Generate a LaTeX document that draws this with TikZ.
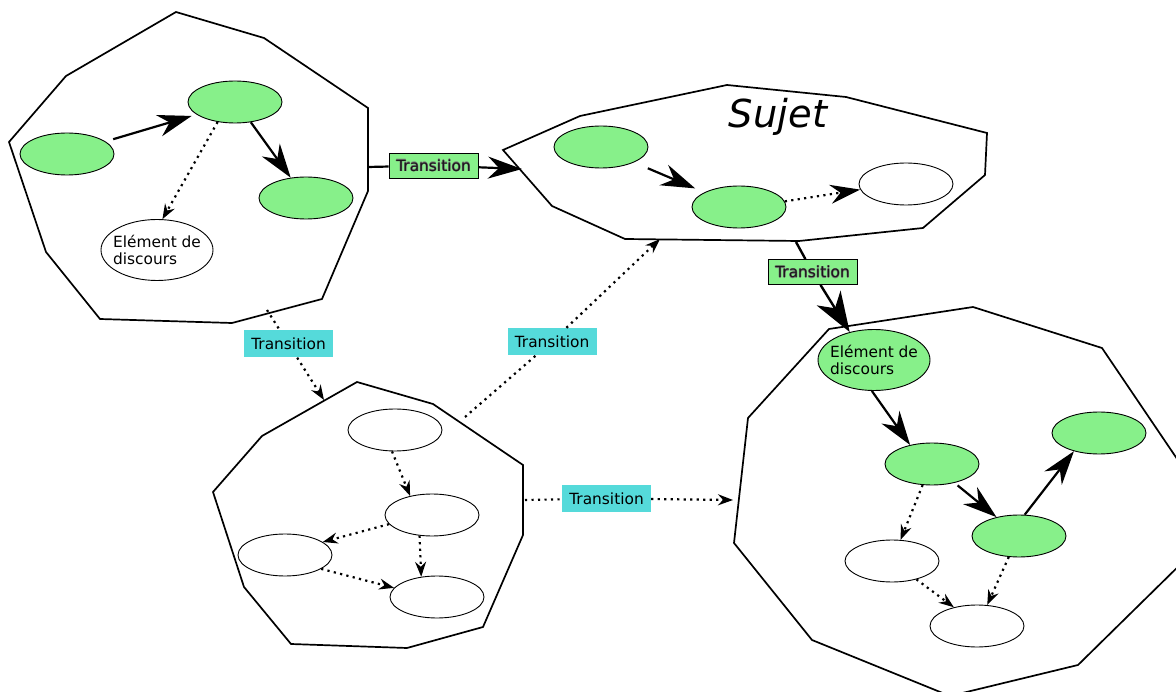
\documentclass[tikz,border=0pt]{standalone}
\usepackage{fontspec}
\setmainfont{DejaVu Sans}
\usetikzlibrary{shapes.geometric,arrows.meta}

\definecolor{nodegreen}{RGB}{135,240,138}
\definecolor{transcyan}{RGB}{85,218,218}

% text set with a soft grey halo, for the green transition tags
\newcommand\heavytext[1]{%
  \setbox0\hbox{#1}%
  \rlap{\color{black!55}\kern0.5pt\copy0}\rlap{\color{black!55}\kern-0.5pt\copy0}%
  \rlap{\color{black!55}\raise0.5pt\copy0}\rlap{\color{black!55}\lower0.5pt\copy0}%
  {\color{black!90}\box0}}
\newcommand\labelsize{\fontsize{15.4}{17.7}\selectfont}

\begin{document}
\begin{tikzpicture}[x=1pt,y=-1pt,
  elt/.style={ellipse, draw, line width=0.9pt, minimum width=94pt,
    minimum height=42pt, inner sep=0pt},
  active/.style={elt, fill=nodegreen},
  idle/.style={elt, fill=white},
  bigelt/.style={minimum width=112pt, minimum height=61pt, inner xsep=-5pt,
    inner ysep=0pt, align=left, font=\labelsize},
  region/.style={draw, line width=1.7pt, line join=miter},
  flow/.style={line width=2.2pt,
    -{Stealth[length=34pt,width=22pt,inset=11pt]}},
  bigflow/.style={line width=2.4pt,
    -{Stealth[length=40pt,width=28pt,inset=12pt]}},
  dots/.style={line width=2.2pt, dash pattern=on 2.2pt off 4.3pt},
  link/.style={dots, -{Stealth[length=15pt,width=11pt,inset=5pt]}},
  biglink/.style={dots, -{Stealth[length=30pt,width=19pt,inset=10pt]}},
  trgreen/.style={draw, line width=0.8pt, fill=nodegreen, minimum width=89pt,
    minimum height=25pt, inner sep=0pt, font=\labelsize},
  trcyan/.style={fill=transcyan, minimum width=89pt, minimum height=27pt,
    inner sep=0pt, font=\labelsize},
]
\useasboundingbox (0,0) rectangle (1176,692);
\clip (0,0) rectangle (1176,692);

% ---- the four regions ----
\draw[region] (176,12) -- (264,38) -- (368,108) -- (368,191) -- (322,299)
  -- (232,323) -- (100,319) -- (46,252) -- (9,142) -- (66,76) -- cycle;
\draw[region] (503,150) -- (580,116) -- (727,85) -- (846,97) -- (987,133)
  -- (985,175) -- (923,228) -- (799,241) -- (625,239) -- (552,206) -- cycle;
\draw[region] (357,382) -- (433,404) -- (523,465) -- (523,535) -- (483,627)
  -- (407,648) -- (291,644) -- (244,587) -- (213,492) -- (262,436) -- cycle;
\draw[region] (829,329) -- (973,307) -- (1102,348) -- (1190,478) -- (1190,555)
  -- (1078,665) -- (950,696) -- (812,640) -- (734,543) -- (748,418) -- cycle;

\node[font=\fontsize{38.5}{46}\selectfont\itshape, anchor=base] (subject)
  at (778,128) {Sujet};

% ---- region 1 ----
\node[active] (a1) at (67,154) {};
\node[active] (a2) at (235,102) {};
\node[active] (a3) at (306,198) {};
\node[idle, bigelt] (a4) at (157,250) {Elément de\\discours};
\draw[flow, shorten <=8pt, shorten >=5pt] (a1.18) -- (a2.198);
\draw[flow] (a2.-52) -- (a3.127);
\draw[link] (a2.229) -- (a4.80);

% ---- region 2 ----
\node[active] (s1) at (601,147) {};
\node[active] (s2) at (739,207) {};
\node[idle] (s3) at (906,184) {};
\draw[flow, shorten <=15pt, shorten >=10pt] (s1.-25) -- (s2.157);
\draw[biglink] (s2.7) -- (s3.187);

% ---- region 3 ----
\node[idle] (b1) at (395,430) {};
\node[idle] (b2) at (432,515) {};
\node[idle] (b3) at (285,555) {};
\node[idle] (b4) at (437,597) {};
\draw[link] (b1.262) -- (b2.139);
\draw[link] (b2.192) -- (b3.19);
\draw[link] (b2.239) -- (b4.128);
\draw[link] (b3.-21) -- (b4.168);

% ---- region 4 ----
\node[active, bigelt] (d1) at (874,360) {Elément de\\discours};
\node[active] (d2) at (932,464) {};
\node[active] (d3) at (1099,433) {};
\node[active] (d4) at (1019,536) {};
\node[idle] (d5) at (892,561) {};
\node[idle] (d6) at (977,626) {};
\draw[flow] (d1.266) -- (d2.139);
\draw[flow, shorten <=4pt] (d2.-40) -- (d4.140);
\draw[flow] (d4.75) -- (d3.216);
\draw[link] (d2.246) -- (d5.68);
\draw[link] (d4.244) -- (d6.64);
\draw[link] (d5.-37) -- (d6.141);

% ---- transitions between regions ----
\coordinate (g1s) at (368,167);
\coordinate (g1e) at (522,169);
\coordinate (g2s) at (796,242);
\coordinate (c1s) at (267,310);
\coordinate (c1e) at (324,400);
\coordinate (c2s) at (465,417);
\coordinate (c2e) at (660,239);
\coordinate (c3s) at (525,500);
\coordinate (c3e) at (733,500);

\node[trgreen] (t1) at (433.5,165.5) {\heavytext{Transition}};
\node[trgreen] (t2) at (812.5,272) {\heavytext{Transition}};
\node[trcyan] (t3) at (288.5,344) {Transition};
\node[trcyan] (t4) at (552,341.5) {Transition};
\node[trcyan] (t5) at (606.5,498.5) {Transition};

\draw[flow] (g1s) -- (t1) -- (g1e);
\draw[bigflow] (g2s) -- (t2) -- (d1.131);
\draw[link] (c1s) -- (t3) -- (c1e);
\draw[link] (c2s) -- (t4) -- (c2e);
\draw[link] (c3s) -- (t5) -- (c3e);
\end{tikzpicture}
\end{document}
